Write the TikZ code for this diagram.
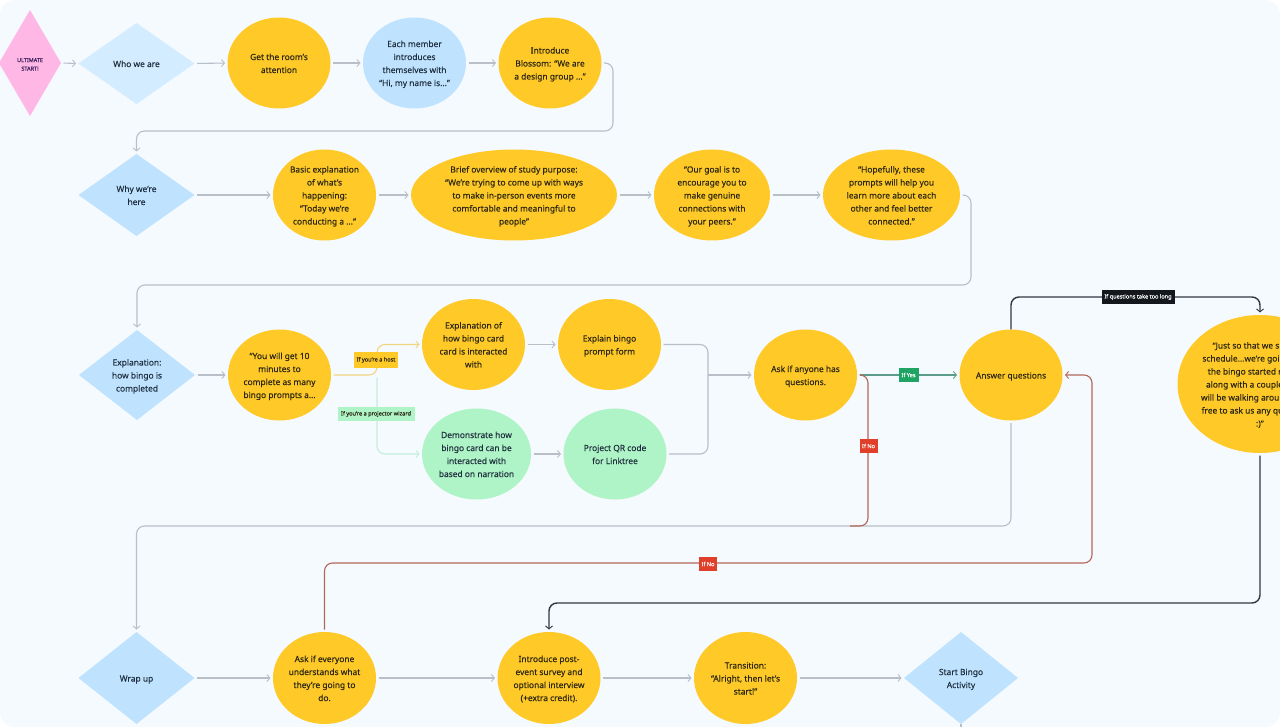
\documentclass[tikz,border=0pt]{standalone}
\usepackage{fontspec}
\setmainfont{Noto Sans}[FakeBold=0.12]
\usetikzlibrary{shapes.geometric,arrows.meta}
\definecolor{bgc}{HTML}{F5FAFE}
\definecolor{amber}{HTML}{FFC928}
\definecolor{skyb}{HTML}{BFE3FF}
\definecolor{skyl}{HTML}{D3ECFF}
\definecolor{pinkd}{HTML}{FFB8E6}
\definecolor{mint}{HTML}{AFF4C6}
\definecolor{wire}{HTML}{B9BFC7}
\definecolor{wireamber}{HTML}{F2D583}
\definecolor{wiremint}{HTML}{C4EEDC}
\definecolor{wireteal}{HTML}{5C9C8A}
\definecolor{wirered}{HTML}{B5665A}
\definecolor{wiredark}{HTML}{2F3740}
\definecolor{inktext}{HTML}{2C2712}
\definecolor{inkblue}{HTML}{1F2F3F}
\definecolor{inkpurple}{HTML}{3B1E5A}
\definecolor{taggreen}{HTML}{1FA463}
\definecolor{tagred}{HTML}{E0402A}
\definecolor{tagblack}{HTML}{14181D}
% text set around the middle of a shape, without changing the shape's size
\newcommand\lbl[1]{\makebox[0pt]{\raisebox{-2.9pt}[0pt][0pt]{\begin{tabular}{@{}c@{}}#1\end{tabular}}}}
\tikzset{
  x=1pt,y=-1pt,
  base/.style={inner sep=0pt,outer sep=0pt,align=center,text=inktext,font=\fontsize{8.4}{13}\selectfont},
  blob/.style={base,ellipse,fill=amber,minimum height=91pt,minimum width=103pt},
  dia/.style={base,diamond,fill=skyb,minimum width=116pt,minimum height=82pt,aspect=1.4,text=inkblue},
  arrowline/.style={wire,line width=1.1pt,rounded corners=8pt,shorten >=2.5pt,shorten <=2.5pt,
    -{Straight Barb[length=3pt,width=7pt,line width=0.9pt]}},
  plainline/.style={wire,line width=1.1pt,rounded corners=8pt,shorten <=2.5pt},
  tag/.style={inner sep=0pt,outer sep=0pt,minimum height=14pt,align=center,font=\fontsize{5.6}{6}\selectfont},
}
\begin{document}
\begin{tikzpicture}
\useasboundingbox (0,0) rectangle (1280,727);
\fill[white] (0,0) rectangle (1280,727);
\fill[bgc,rounded corners=15pt] (0,0) rectangle (1280,727);
\clip[rounded corners=15pt] (0,0) rectangle (1280,727);

% row 1
\node[dia,fill=pinkd,minimum width=62pt,minimum height=106pt,aspect=0.6,text=inkpurple,font=\fontsize{5.5}{8.5}\selectfont] (ultimate) at (30,63) {\lbl{ULTIMATE\\START!}};
\node[dia,fill=skyl,minimum height=81pt] (who) at (136.5,63.5) {\lbl{Who we are}};
\node[blob] (room) at (279,63) {\lbl{Get the room's\\attention}};
\node[blob,fill=skyb,text=inkblue] (member) at (414.5,63) {\lbl{Each member\\introduces\\themselves with\\“Hi, my name is...”}};
\node[blob] (blossom) at (550,63) {\lbl{Introduce\\Blossom: “We are\\a design group ...”}};
% row 2
\node[dia] (why) at (136.5,195) {\lbl{Why we're\\here}};
\node[blob] (basic) at (324.5,195) {\lbl{Basic explanation\\of what's\\happening:\\“Today we're\\conducting a ...”}};
\node[blob,minimum width=206pt] (brief) at (514,195) {\lbl{Brief overview of study purpose:\\“We're trying to come up with ways\\to make in-person events more\\comfortable and meaningful to\\people”}};
\node[blob,minimum width=116pt] (goal) at (712,195) {\lbl{“Our goal is to\\encourage you to\\make genuine\\connections with\\your peers.”}};
\node[blob,minimum width=137pt] (hope) at (891.5,195) {\lbl{“Hopefully, these\\prompts will help you\\learn more about each\\other and feel better\\connected.”}};
% row 3
\node[dia,minimum height=90pt] (explain) at (137,375) {\lbl{Explanation:\\how bingo is\\completed}};
\node[blob] (tenmin) at (279.5,375) {\lbl{“You will get 10\\minutes to\\complete as many\\bingo prompts a...}};
\node[blob] (cardhow) at (473.5,344.5) {\lbl{Explanation of\\how bingo card\\card is interacted\\with}};
\node[blob] (form) at (609.5,344.5) {\lbl{Explain bingo\\prompt form}};
\node[blob,fill=mint,text=inkblue,minimum width=109pt] (demo) at (476.5,454) {\lbl{Demonstrate how\\bingo card can be\\interacted with\\based on narration}};
\node[blob,fill=mint,text=inkblue] (qr) at (615,454) {\lbl{Project QR code\\for Linktree}};
\node[blob] (askq) at (805.5,375) {\lbl{Ask if anyone has\\questions.}};
\node[blob] (answer) at (1011,375) {\lbl{Answer questions}};
% cut off at the right edge of the picture
\node[blob,minimum width=165pt,minimum height=138pt] (sched) at (1260,384) {};
\node[base,anchor=west,align=left] (schedtext) at (1201,385) {\hspace*{11.6pt}“Just so that we s\\\hspace*{1.4pt}schedule...we're goi\\\hspace*{6.8pt}the bingo started r\\\hspace*{5pt}along with a couple\\will be walking aroun\\\hspace*{0.6pt}free to ask us any qu\\\hspace*{55pt}:)”};
% row 4
\node[dia,minimum height=92pt] (wrap) at (136.5,678) {\lbl{Wrap up}};
\node[blob,minimum height=92pt] (everyone) at (324.5,678) {\lbl{Ask if everyone\\understands what\\they're going to\\do.}};
\node[blob,minimum height=92pt] (survey) at (549,678) {\lbl{Introduce post-\\event survey and\\optional interview\\(+extra credit).}};
\node[blob,minimum height=92pt] (transition) at (745.5,678) {\lbl{Transition:\\“Alright, then let's\\start!”}};
\node[dia,minimum width=114pt,minimum height=92pt] (bingo) at (961,678) {\lbl{Start Bingo\\Activity}};

% helper points
\coordinate (b1) at (613,131);
\coordinate (b2) at (971,285);
\coordinate (fork) at (377,375);
\coordinate (join) at (708,375);
\coordinate (b3) at (136.5,526);
\coordinate (b4) at (868,526);
\coordinate (b5) at (850,526);
\coordinate (b6) at (1092,563);
\coordinate (b7) at (1260,297);
\coordinate (b8) at (549,603);
\coordinate (stem) at (961,740);

% grey connectors
\foreach \a/\b in {ultimate/who,who/room,room/member,member/blossom,why/basic,basic/brief,brief/goal,goal/hope,explain/tenmin,cardhow/form,demo/qr,wrap/everyone,everyone/survey,survey/transition,transition/bingo}
  \draw[arrowline] (\a.east) -- (\b.west);
\draw[arrowline] (blossom.east) -| (b1) -| (why.north);
\draw[arrowline] (hope.east) -| (b2) -| (explain.north);
\draw[plainline] (form.east) -| (join);
\draw[plainline] (qr.east) -| (join);
\draw[arrowline,shorten <=0pt] (join) -- (askq.west);
\draw[arrowline] (answer.south) |- (b3) -- (wrap.north);
\draw[wire,line width=1.1pt] (bingo.south) -- (stem);

% host / wizard branches
\draw[arrowline,wiremint] (fork) |- (demo.west);
\draw[arrowline,wireamber] (tenmin.east) -- (fork) |- (cardhow.west);

% yes / no / overtime
\draw[arrowline,wireteal] (askq.east) -- (answer.west);
\draw[plainline,wirered] (askq.east) -| (b4) -- (b5);
\draw[arrowline,wirered] (everyone.north) |- (b6) |- (answer.east);
\draw[arrowline,wiredark,line width=1.4pt,shorten <=0pt] (answer.north) |- (b7) -- (sched.north);
\draw[arrowline,wiredark,line width=1.4pt] (sched.south) |- (b8) -- (survey.north);

% tags
\node[tag,fill=amber,text=inktext,minimum width=44pt,minimum height=15pt] (taghost) at (376,360) {If you're a host};
\node[tag,fill=mint,text=inktext,minimum width=77pt] (tagwizard) at (376,414) {If you're a projector wizard};
\node[tag,fill=taggreen,text=white,minimum width=20pt] (tagyes) at (908.5,375) {If Yes};
\node[tag,fill=tagred,text=white,minimum width=18pt] (tagno) at (868.5,446) {If No};
\node[tag,fill=tagred,text=white,minimum width=18pt] (tagnob) at (708,564) {If No};
\node[tag,fill=tagblack,text=white,minimum width=73pt] (taglong) at (1138,297) {If questions take too long};
\end{tikzpicture}
\end{document}
